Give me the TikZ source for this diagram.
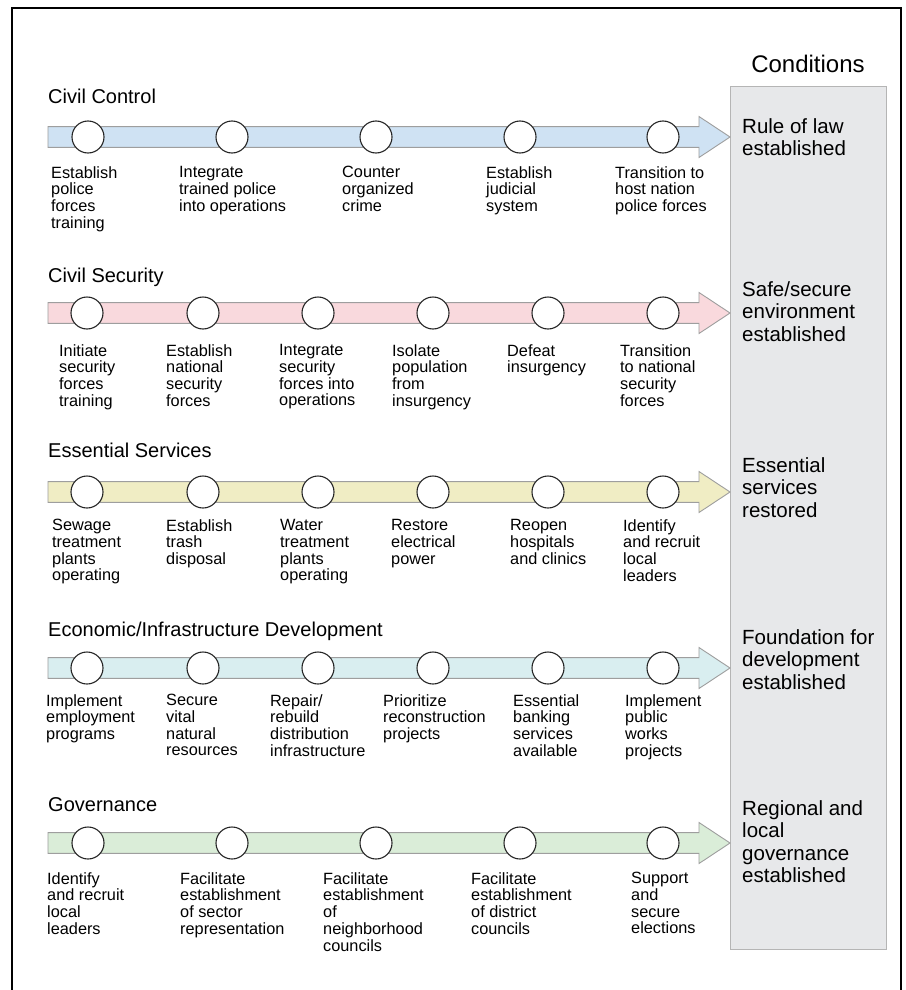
\documentclass[tikz,border=0pt]{standalone}
\usepackage{fontspec}
\setmainfont{Liberation Sans}
\usetikzlibrary{calc}
\definecolor{cblue}{HTML}{CFE2F3}
\definecolor{cpink}{HTML}{F9D9DD}
\definecolor{cyellow}{HTML}{F0EDC4}
\definecolor{ccyan}{HTML}{D9EEF0}
\definecolor{cgreen}{HTML}{DAEDD8}
\definecolor{condgray}{HTML}{E7E8EA}
\definecolor{bandline}{HTML}{9E9E9E}
\definecolor{boxline}{HTML}{B5B5B5}
\newcommand\drawband[3]{%
  \coordinate (#1s) at (48,#2);
  \coordinate (#1t) at (730,#2);
  \draw[band,fill=#3] ($(#1s)+(0,-10.4)$) -- (699,#2-10.4) -- (699,#2-20.5) -- (#1t)
     -- (699,#2+20.5) -- (699,#2+10.4) -- ($(#1s)+(0,10.4)$) -- cycle;}
\begin{document}
\begin{tikzpicture}[x=1pt,y=-1pt,
  dot/.style={circle,draw=black!85,line width=1.1pt,fill=white,minimum size=32pt,inner sep=0pt},
  band/.style={draw=bandline,line width=0.9pt},
  lbl/.style={anchor=north west,inner sep=0pt,align=left,font=\fontsize{16.3}{16.7}\selectfont,execute at begin node={\rule{0pt}{12.5pt}}},
  ttl/.style={anchor=base west,inner sep=0pt,font=\fontsize{20}{24}\selectfont},
  cond/.style={anchor=north west,inner sep=0pt,align=left,font=\fontsize{20.5}{22.5}\selectfont,execute at begin node={\rule{0pt}{16pt}}}
]
\useasboundingbox (0,0) rectangle (905,990);
\fill[white] (0,0) rectangle (905,990);
\begin{scope}
\clip (0,0) rectangle (905,990);
\draw[line width=2pt] (12,1000) -- (12,8) -- (901,8) -- (901,1000);
\end{scope}

% conditions column
\node[draw=boxline,fill=condgray,line width=0.9pt,minimum width=156pt,minimum height=863pt,anchor=north west,inner sep=0pt] (condbox) at (730,86) {};
\node[anchor=base,inner sep=0pt,font=\fontsize{24}{28}\selectfont] (condtitle) at (808,72) {Conditions};
\node[cond] (k1) at (742,118) {Rule of law\\established};
\node[cond] (k2) at (742,281) {Safe/secure\\environment\\established};
\node[cond] (k3) at (742,457) {Essential\\services\\restored};
\node[cond] (k4) at (742,629) {Foundation for\\development\\established};
\node[cond] (k5) at (742,800) {Regional and\\local\\governance\\established};

% Row 1: Civil Control
\node[ttl] (t1) at (48,103) {Civil Control};
\drawband{b1}{137}{cblue}
\foreach \x [count=\i] in {88,232,376,520,663} \node[dot] (r1c\i) at (\x,137) {};
\node[lbl] (r1l1) at (51,166.2) {Establish\\police\\forces\\training};
\node[lbl] (r1l2) at (179,166.2) {Integrate\\trained police\\into operations};
\node[lbl] (r1l3) at (342,166.2) {Counter\\organized\\crime};
\node[lbl] (r1l4) at (486,166.2) {Establish\\judicial\\system};
\node[lbl] (r1l5) at (615,166.2) {Transition to\\host nation\\police forces};

% Row 2: Civil Security
\node[ttl] (t2) at (48,282) {Civil Security};
\drawband{b2}{313}{cpink}
\foreach \x [count=\i] in {87,203,318,433,548,663} \node[dot] (r2c\i) at (\x,313) {};
\node[lbl] (r2l1) at (59,344.2) {Initiate\\security\\forces\\training};
\node[lbl] (r2l2) at (166,344.2) {Establish\\national\\security\\forces};
\node[lbl] (r2l3) at (279,344.2) {Integrate\\security\\forces into\\operations};
\node[lbl] (r2l4) at (392,344.2) {Isolate\\population\\from\\insurgency};
\node[lbl] (r2l5) at (507,344.2) {Defeat\\insurgency};
\node[lbl] (r2l6) at (620,344.2) {Transition\\to national\\security\\forces};

% Row 3: Essential Services
\node[ttl] (t3) at (48,457) {Essential Services};
\drawband{b3}{492}{cyellow}
\foreach \x [count=\i] in {87,203,318,433,548,663} \node[dot] (r3c\i) at (\x,492) {};
\node[lbl] (r3l1) at (52,519.2) {Sewage\\treatment\\plants\\operating};
\node[lbl] (r3l2) at (166,519.2) {Establish\\trash\\disposal};
\node[lbl] (r3l3) at (280,519.2) {Water\\treatment\\plants\\operating};
\node[lbl] (r3l4) at (391,519.2) {Restore\\electrical\\power};
\node[lbl] (r3l5) at (510,519.2) {Reopen\\hospitals\\and clinics};
\node[lbl] (r3l6) at (623,519.2) {Identify\\and recruit\\local\\leaders};

% Row 4: Economic/Infrastructure Development
\node[ttl] (t4) at (48,636) {Economic/Infrastructure Development};
\drawband{b4}{668}{ccyan}
\foreach \x [count=\i] in {87,203,318,433,548,663} \node[dot] (r4c\i) at (\x,668) {};
\node[lbl] (r4l1) at (46,694.2) {Implement\\employment\\programs};
\node[lbl] (r4l2) at (166,694.2) {Secure\\vital\\natural\\resources};
\node[lbl] (r4l3) at (270,694.2) {Repair/\\rebuild\\distribution\\infrastructure};
\node[lbl] (r4l4) at (383,694.2) {Prioritize\\reconstruction\\projects};
\node[lbl] (r4l5) at (513,694.2) {Essential\\banking\\services\\available};
\node[lbl] (r4l6) at (625,694.2) {Implement\\public\\works\\projects};

% Row 5: Governance
\node[ttl] (t5) at (48,811) {Governance};
\drawband{b5}{843}{cgreen}
\foreach \x [count=\i] in {88,232,376,520,663} \node[dot] (r5c\i) at (\x,843) {};
\node[lbl] (r5l1) at (47,872.2) {Identify\\and recruit\\local\\leaders};
\node[lbl] (r5l2) at (180,872.2) {Facilitate\\establishment\\of sector\\representation};
\node[lbl] (r5l3) at (323,872.2) {Facilitate\\establishment\\of\\neighborhood\\councils};
\node[lbl] (r5l4) at (471,872.2) {Facilitate\\establishment\\of district\\councils};
\node[lbl] (r5l5) at (631,872.2) {Support\\and\\secure\\elections};
\end{tikzpicture}
\end{document}
